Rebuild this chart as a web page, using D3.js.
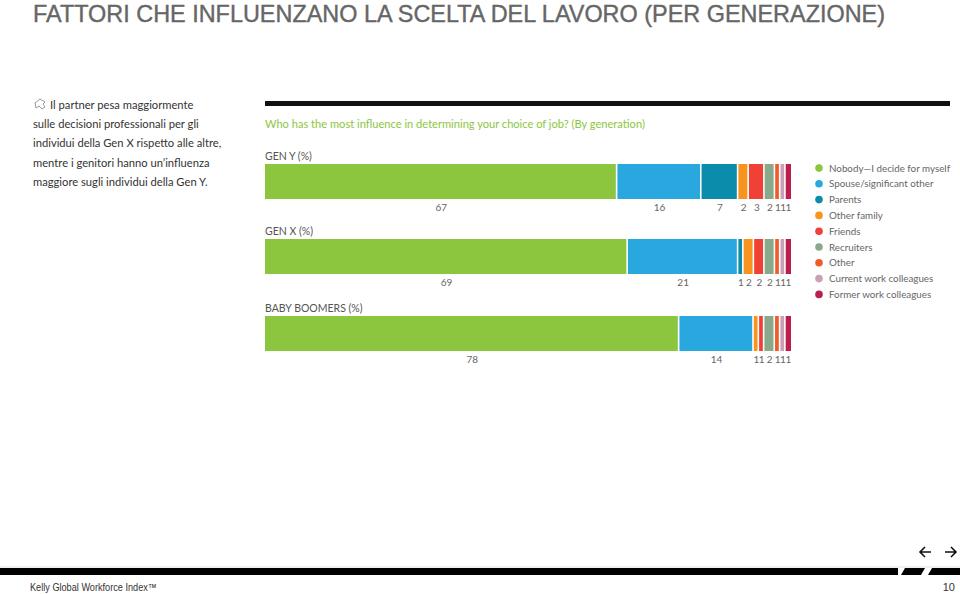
<!DOCTYPE html>
<html><head><meta charset="utf-8">
<script src="https://cdn.jsdelivr.net/npm/d3@7/dist/d3.min.js"></script>
<style>body{margin:0;background:#fff}svg{display:block}</style>
</head><body><svg id="c" width="960" height="594"></svg>
<script>
const categories = ["Nobody\u2014I decide for myself","Spouse/significant other","Parents","Other family","Friends","Recruiters","Other","Current work colleagues","Former work colleagues"];
const colors = ["#8cc63f","#29a8e0","#0b8cab","#f7941d","#ef4136","#88a98a","#f15a29","#c9a1b6","#be1e4d"];
const generations = ["GEN Y (%)","GEN X (%)","BABY BOOMERS (%)"];
const genY = [67,16,7,2,3,2,1,1,1];
const genX = [69,21,1,2,2,2,1,1,1];
const boomers = [78,14,0,1,1,2,1,1,1];
const seriesValues = [genY, genX, boomers];
const noteLines = ["Il partner pesa maggiormente","sulle decisioni professionali per gli","individui della Gen X rispetto alle altre,","mentre i genitori hanno un\u2019influenza","maggiore sugli individui della Gen Y."];

const svg = d3.select("#c");
const font = "Lato, 'Open Sans', sans-serif";

// Title
svg.append("text").attr("x",33).attr("y",22).attr("font-family","'Liberation Sans',Arial,sans-serif")
  .attr("font-size",24).attr("fill","#666").attr("stroke","#666").attr("stroke-width",0.4)
  .attr("textLength",852).attr("lengthAdjust","spacingAndGlyphs")
  .text("FATTORI CHE INFLUENZANO LA SCELTA DEL LAVORO (PER GENERAZIONE)");

// Left note
const icon = svg.append("g").attr("transform","translate(34,98)");
icon.append("path").attr("d","M1,5 L6,1 L11,4 L9,6 L11,9 L8,11 L5,8 L2,10 Z").attr("fill","none").attr("stroke","#999").attr("stroke-width",1);
svg.append("g").selectAll("text").data(noteLines).join("text")
  .attr("x",(d,i)=>i===0?50:33).attr("y",(d,i)=>109+i*19.2)
  .attr("font-family",font).attr("font-size",11.2).attr("fill","#333").text(d=>d);

// Top rule
svg.append("rect").attr("x",265).attr("y",101).attr("width",685).attr("height",5).attr("fill","#111");
svg.append("text").attr("x",265).attr("y",128).attr("font-family",font).attr("font-size",11.1).attr("fill","#8cc63f").text("Who has the most influence in determining your choice of job? (By generation)");

// Bars
const barY = [164, 239, 316];
const barH = 35;
seriesValues.forEach((vals, gi) => {
  const total = d3.sum(vals);
  const x = d3.scaleLinear().domain([0,total]).range([265,791]);
  const segs = [];
  let cum = 0;
  vals.forEach((v,i)=>{ segs.push({v,i,x0:cum,x1:cum+v}); cum+=v; });
  const g = svg.append("g");
  g.append("text").attr("x",265).attr("y",barY[gi]-4).attr("font-family",font).attr("font-size",10.5).attr("fill","#555").text(generations[gi]);
  g.selectAll("rect").data(segs.filter(s=>s.v>0)).join("rect")
    .attr("x",s=>x(s.x0)).attr("y",barY[gi]).attr("height",barH)
    .attr("width",(s)=>Math.max(0.5, x(s.x1)-x(s.x0)-(s.i===8?0:1.6)))
    .attr("fill",s=>colors[s.i]);
  g.selectAll("text.v").data(segs.filter(s=>s.v>0)).join("text").attr("class","v")
    .attr("x",s=>(x(s.x0)+x(s.x1))/2).attr("y",barY[gi]+barH+12).attr("text-anchor","middle")
    .attr("font-family",font).attr("font-size",10).attr("fill","#666").text(s=>s.v);
});

// Legend
const lg = svg.append("g");
categories.forEach((c,i)=>{
  const y = 168 + i*15.8;
  lg.append("circle").attr("cx",819).attr("cy",y).attr("r",3.8).attr("fill",colors[i]);
  lg.append("text").attr("x",829).attr("y",y+3.5).attr("font-family",font).attr("font-size",9.8).attr("fill","#666").text(c);
});

// Footer
svg.append("line").attr("x1",0).attr("x2",960).attr("y1",567).attr("y2",567).attr("stroke","#ccc").attr("stroke-width",0.6);
svg.append("rect").attr("x",0).attr("y",568).attr("width",898).attr("height",7).attr("fill","#000");
svg.append("path").attr("d","M901,575 L905,568 L925,568 L921,575 Z").attr("fill","#000");
svg.append("path").attr("d","M928,575 L932,568 L960,568 L960,575 Z").attr("fill","#000");
svg.append("text").attr("x",30).attr("y",591).attr("font-family","'Liberation Sans',Arial,sans-serif").attr("font-size",10.5).attr("fill","#333")
  .attr("textLength",127).attr("lengthAdjust","spacingAndGlyphs").text("Kelly Global Workforce Index\u2122");
svg.append("text").attr("x",955).attr("y",591).attr("text-anchor","end").attr("font-family","'Liberation Sans',Arial,sans-serif").attr("font-size",11).attr("fill","#333").text("10");
// arrows
const ar = svg.append("g").attr("stroke","#111").attr("stroke-width",1.6).attr("fill","none");
ar.append("path").attr("d","M920,552 L931,552 M925,547 L920,552 L925,557");
ar.append("path").attr("d","M945,552 L956,552 M951,547 L956,552 L951,557");
</script></body></html>
